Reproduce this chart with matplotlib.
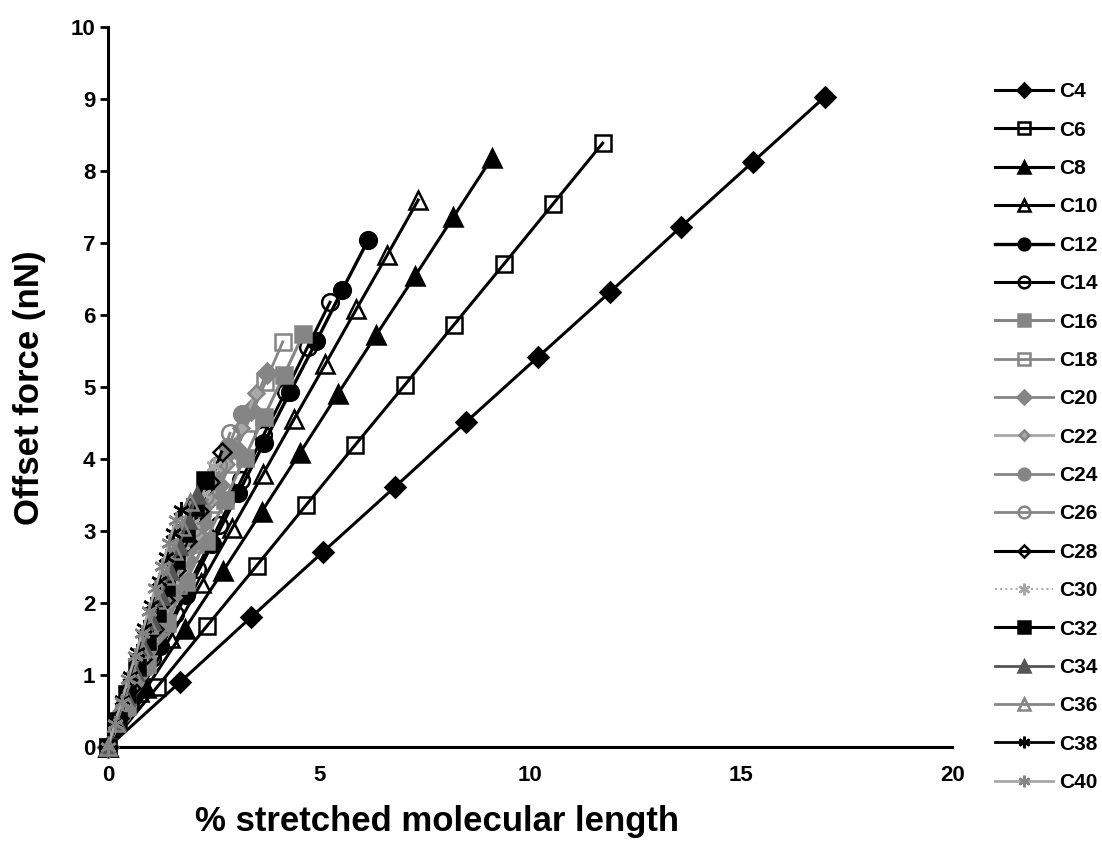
import matplotlib
matplotlib.use('Agg')
import matplotlib.pyplot as plt

plt.rcParams['font.family'] = ['Liberation Sans', 'DejaVu Sans']
plt.rcParams['font.weight'] = 'bold'

# 数据：各链长的 (伸长百分比, 偏移力)
labels = ['C4', 'C6', 'C8', 'C10', 'C12', 'C14', 'C16', 'C18', 'C20', 'C22',
          'C24', 'C26', 'C28', 'C30', 'C32', 'C34', 'C36', 'C38', 'C40']

x_c4 = [0, 1.70, 3.40, 5.09, 6.79, 8.49, 10.19, 11.89, 13.58, 15.28, 16.98]
y_c4 = [0, 0.90, 1.81, 2.71, 3.61, 4.52, 5.42, 6.32, 7.23, 8.13, 9.03]
x_c6 = [0, 1.17, 2.34, 3.52, 4.69, 5.86, 7.03, 8.20, 9.38, 10.55, 11.72]
y_c6 = [0, 0.84, 1.68, 2.52, 3.36, 4.20, 5.03, 5.87, 6.71, 7.55, 8.39]
x_c8 = [0, 0.91, 1.82, 2.73, 3.64, 4.55, 5.45, 6.36, 7.27, 8.18, 9.09]
y_c8 = [0, 0.82, 1.64, 2.45, 3.27, 4.09, 4.91, 5.73, 6.54, 7.36, 8.18]
x_c10 = [0, 0.74, 1.47, 2.21, 2.94, 3.68, 4.41, 5.15, 5.88, 6.62, 7.35]
y_c10 = [0, 0.76, 1.52, 2.28, 3.04, 3.80, 4.56, 5.32, 6.08, 6.84, 7.60]
x_c12 = [0, 0.62, 1.23, 1.85, 2.47, 3.09, 3.70, 4.32, 4.94, 5.55, 6.17]
y_c12 = [0, 0.71, 1.41, 2.12, 2.82, 3.53, 4.23, 4.94, 5.64, 6.35, 7.05]
x_c14 = [0, 0.53, 1.05, 1.58, 2.10, 2.63, 3.16, 3.68, 4.21, 4.73, 5.26]
y_c14 = [0, 0.62, 1.24, 1.85, 2.47, 3.09, 3.71, 4.33, 4.94, 5.56, 6.18]
x_c16 = [0, 0.46, 0.93, 1.39, 1.85, 2.32, 2.78, 3.24, 3.70, 4.17, 4.63]
y_c16 = [0, 0.57, 1.15, 1.72, 2.30, 2.87, 3.44, 4.02, 4.59, 5.17, 5.74]
x_c18 = [0, 0.41, 0.83, 1.24, 1.66, 2.07, 2.48, 2.90, 3.31, 3.73, 4.14]
y_c18 = [0, 0.56, 1.13, 1.69, 2.25, 2.82, 3.38, 3.94, 4.50, 5.07, 5.63]
x_c20 = [0, 0.38, 0.75, 1.13, 1.50, 1.88, 2.26, 2.63, 3.01, 3.38, 3.76]
y_c20 = [0, 0.52, 1.04, 1.56, 2.08, 2.60, 3.12, 3.64, 4.16, 4.68, 5.20]
x_c22 = [0, 0.35, 0.70, 1.05, 1.40, 1.75, 2.10, 2.45, 2.80, 3.15, 3.50]
y_c22 = [0, 0.49, 0.98, 1.48, 1.97, 2.46, 2.95, 3.44, 3.94, 4.43, 4.92]
x_c24 = [0, 0.32, 0.63, 0.95, 1.27, 1.59, 1.90, 2.22, 2.54, 2.85, 3.17]
y_c24 = [0, 0.46, 0.93, 1.39, 1.85, 2.32, 2.78, 3.24, 3.70, 4.17, 4.63]
x_c26 = [0, 0.29, 0.58, 0.87, 1.16, 1.45, 1.73, 2.02, 2.31, 2.60, 2.89]
y_c26 = [0, 0.44, 0.87, 1.31, 1.74, 2.18, 2.62, 3.05, 3.49, 3.92, 4.36]
x_c28 = [0, 0.27, 0.54, 0.81, 1.08, 1.35, 1.61, 1.88, 2.15, 2.42, 2.69]
y_c28 = [0, 0.41, 0.82, 1.23, 1.64, 2.05, 2.46, 2.87, 3.28, 3.69, 4.10]
x_c30 = [0, 0.25, 0.50, 0.75, 1.00, 1.25, 1.50, 1.75, 2.00, 2.25, 2.50]
y_c30 = [0, 0.39, 0.78, 1.17, 1.56, 1.95, 2.34, 2.73, 3.12, 3.51, 3.90]
x_c32 = [0, 0.23, 0.46, 0.69, 0.92, 1.15, 1.38, 1.61, 1.84, 2.07, 2.30]
y_c32 = [0, 0.37, 0.74, 1.11, 1.48, 1.86, 2.23, 2.60, 2.97, 3.34, 3.71]
x_c34 = [0, 0.21, 0.42, 0.63, 0.84, 1.05, 1.26, 1.47, 1.68, 1.89, 2.10]
y_c34 = [0, 0.35, 0.70, 1.05, 1.40, 1.75, 2.10, 2.45, 2.80, 3.15, 3.50]
x_c36 = [0, 0.20, 0.39, 0.59, 0.78, 0.98, 1.17, 1.37, 1.56, 1.76, 1.95]
y_c36 = [0, 0.34, 0.68, 1.02, 1.36, 1.70, 2.04, 2.38, 2.72, 3.06, 3.40]
x_c38 = [0, 0.17, 0.34, 0.52, 0.69, 0.86, 1.03, 1.20, 1.38, 1.55, 1.72]
y_c38 = [0, 0.33, 0.66, 0.99, 1.32, 1.65, 1.98, 2.31, 2.64, 2.97, 3.30]
x_c40 = [0, 0.16, 0.32, 0.48, 0.64, 0.80, 0.96, 1.12, 1.28, 1.44, 1.60]
y_c40 = [0, 0.32, 0.63, 0.95, 1.26, 1.58, 1.89, 2.21, 2.52, 2.84, 3.15]

xs = [x_c4, x_c6, x_c8, x_c10, x_c12, x_c14, x_c16, x_c18, x_c20, x_c22,
      x_c24, x_c26, x_c28, x_c30, x_c32, x_c34, x_c36, x_c38, x_c40]
ys = [y_c4, y_c6, y_c8, y_c10, y_c12, y_c14, y_c16, y_c18, y_c20, y_c22,
      y_c24, y_c26, y_c28, y_c30, y_c32, y_c34, y_c36, y_c38, y_c40]

# 星号标记（竖线 + 两条斜线）
asterisk = (6, 2, 0)

# 样式：(线色, 线宽, 线型, 标记, 填充色, 边色, 标记大小)；空心标记不填充，线从中穿过
K, G, LG, DG = 'black', '#858585', '#a8a8a8', '#555555'
N = 'none'
styles = [
    (K, 2.2, '-', 'D', K, K, 10),
    (K, 2.2, '-', 's', N, K, 12),
    (K, 2.2, '-', '^', K, K, 13),
    (K, 2.2, '-', '^', N, K, 13),
    (K, 2.4, '-', 'o', K, K, 12),
    (K, 2.2, '-', 'o', N, K, 12),
    (G, 2.2, '-', 's', G, G, 12),
    (G, 2.0, '-', 's', N, G, 12),
    (G, 2.0, '-', 'D', G, G, 10),
    (LG, 2.0, '-', 'D', LG, G, 8),
    (G, 2.0, '-', 'o', G, G, 12),
    (G, 2.0, '-', 'o', N, G, 12),
    (K, 2.2, '-', 'D', N, K, 9),
    (LG, 1.4, ':', asterisk, LG, LG, 12),
    (K, 2.2, '-', 's', K, K, 12),
    (DG, 2.0, '-', '^', DG, DG, 12),
    (G, 2.0, '-', '^', N, G, 12),
    (K, 2.0, '-', asterisk, K, K, 12),
    (LG, 2.0, '-', asterisk, LG, G, 12),
]

fig = plt.figure(figsize=(11.02, 8.51), dpi=100)
ax = fig.add_axes([0.098, 0.122, 0.766, 0.846])

for lab, x, y, st in zip(labels, xs, ys, styles):
    lc, lw, ls, mk, mfc, mec, ms = st
    ax.plot(x, y, color=lc, linewidth=lw, linestyle=ls, marker=mk,
            markerfacecolor=mfc, markeredgecolor=mec, markeredgewidth=1.8,
            markersize=ms, label=lab, clip_on=False, zorder=3)

ax.set_xlim(0, 20)
ax.set_ylim(0, 10)
ax.set_xticks([0, 5, 10, 15, 20])
ax.set_yticks(range(0, 11))

for s in ['top', 'right']:
    ax.spines[s].set_visible(False)
for s in ['left', 'bottom']:
    ax.spines[s].set_linewidth(2.2)

ax.tick_params(axis='y', direction='out', length=6, width=2, pad=3, labelsize=16)
ax.tick_params(axis='x', length=0, pad=13, labelsize=16)

ax.set_xlabel('% stretched molecular length', fontsize=25, fontweight='bold')
ax.xaxis.set_label_coords(0.39, -0.08)
ax.set_ylabel('Offset force (nN)', fontsize=25, fontweight='bold', labelpad=18)

fig.legend(loc='upper left', bbox_to_anchor=(0.895, 0.913), frameon=False,
           fontsize=15, markerscale=0.7, handlelength=2.8, handletextpad=0.3,
           labelspacing=0.93, borderaxespad=0)

fig.savefig('out.png', dpi=100)
